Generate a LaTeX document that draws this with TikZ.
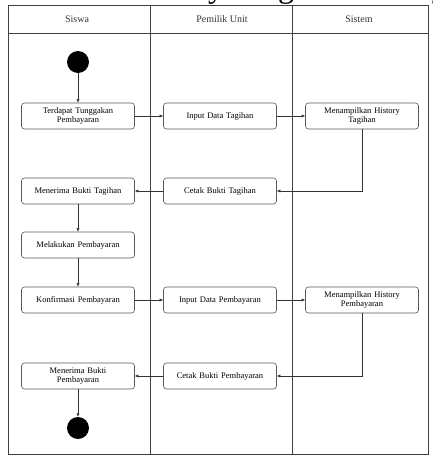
\documentclass[tikz,border=0pt]{standalone}
\usepackage{fontspec}
\setmainfont{Liberation Serif}
\usetikzlibrary{arrows.meta}
\begin{document}
\begin{tikzpicture}[x=1pt,y=-1pt,
  lane/.style={draw=black!75, line width=0.6pt},
  act/.style={draw=black!65, rounded corners=3pt, line width=0.6pt,
    minimum width=113pt, minimum height=26pt, inner sep=1pt,
    align=center, text width=110pt, font=\fontsize{8.5}{9.5}\selectfont},
  dot/.style={circle, fill=black, minimum size=22pt, inner sep=0pt},
  flow/.style={draw=black!80, line width=0.5pt, -{Latex[length=3.5pt,width=3pt]}},
  head/.style={font=\fontsize{10}{12}\selectfont, text=black!80}]
\useasboundingbox (0,0) rectangle (432,456);
\fill[white] (0,0) rectangle (432,456);

% caption running off the top edge
\node[anchor=base, font=\fontsize{32}{36}\selectfont, inner sep=0pt] (cap) at (204,-3) {Gambar 4.6 Activity Diagram History};

% swimlane frame
\draw[lane] (8,5) rectangle (428,454);
\draw[lane] (8,33) -- (428,33);
\draw[lane] (150,5) -- (150,454);
\draw[lane] (292,5) -- (292,454);
\node[head] (h1) at (77,19) {Siswa};
\node[head] (h2) at (222,19) {Pemilik Unit};
\node[head] (h3) at (359,19) {Sistem};

% activities
\node[dot] (start) at (78,62) {};
\node[act] (a1) at (78,116) {Terdapat Tunggakan\\Pembayaran};
\node[act] (a2) at (220,116) {Input Data Tagihan};
\node[act] (a3) at (362,116) {Menampilkan History\\Tagihan};
\node[act] (a4) at (78,191) {Menerima Bukti Tagihan};
\node[act] (a5) at (220,191) {Cetak Bukti Tagihan};
\node[act] (a6) at (78,245) {Melakukan Pembayaran};
\node[act] (a7) at (78,300) {Konfirmasi Pembayaran};
\node[act] (a8) at (220,300) {Input Data Pembayaran};
\node[act] (a9) at (362,300) {Menampilkan History\\Pembayaran};
\node[act] (a10) at (78,376) {Menerima Bukti\\Pembayaran};
\node[act] (a11) at (220,376) {Cetak Bukti Pembayaran};
\node[dot] (stop) at (78,428) {};

% control flow
\draw[flow] (start) -- (a1);
\draw[flow] (a1) -- (a2);
\draw[flow] (a2) -- (a3);
\draw[flow] (a3.south) -- (a3.south |- a5) -- (a5);
\draw[flow] (a5) -- (a4);
\draw[flow] (a4) -- (a6);
\draw[flow] (a6) -- (a7);
\draw[flow] (a7) -- (a8);
\draw[flow] (a8) -- (a9);
\draw[flow] (a9.south) -- (a9.south |- a11) -- (a11);
\draw[flow] (a11) -- (a10);
\draw[flow] (a10) -- (stop);
\end{tikzpicture}
\end{document}
